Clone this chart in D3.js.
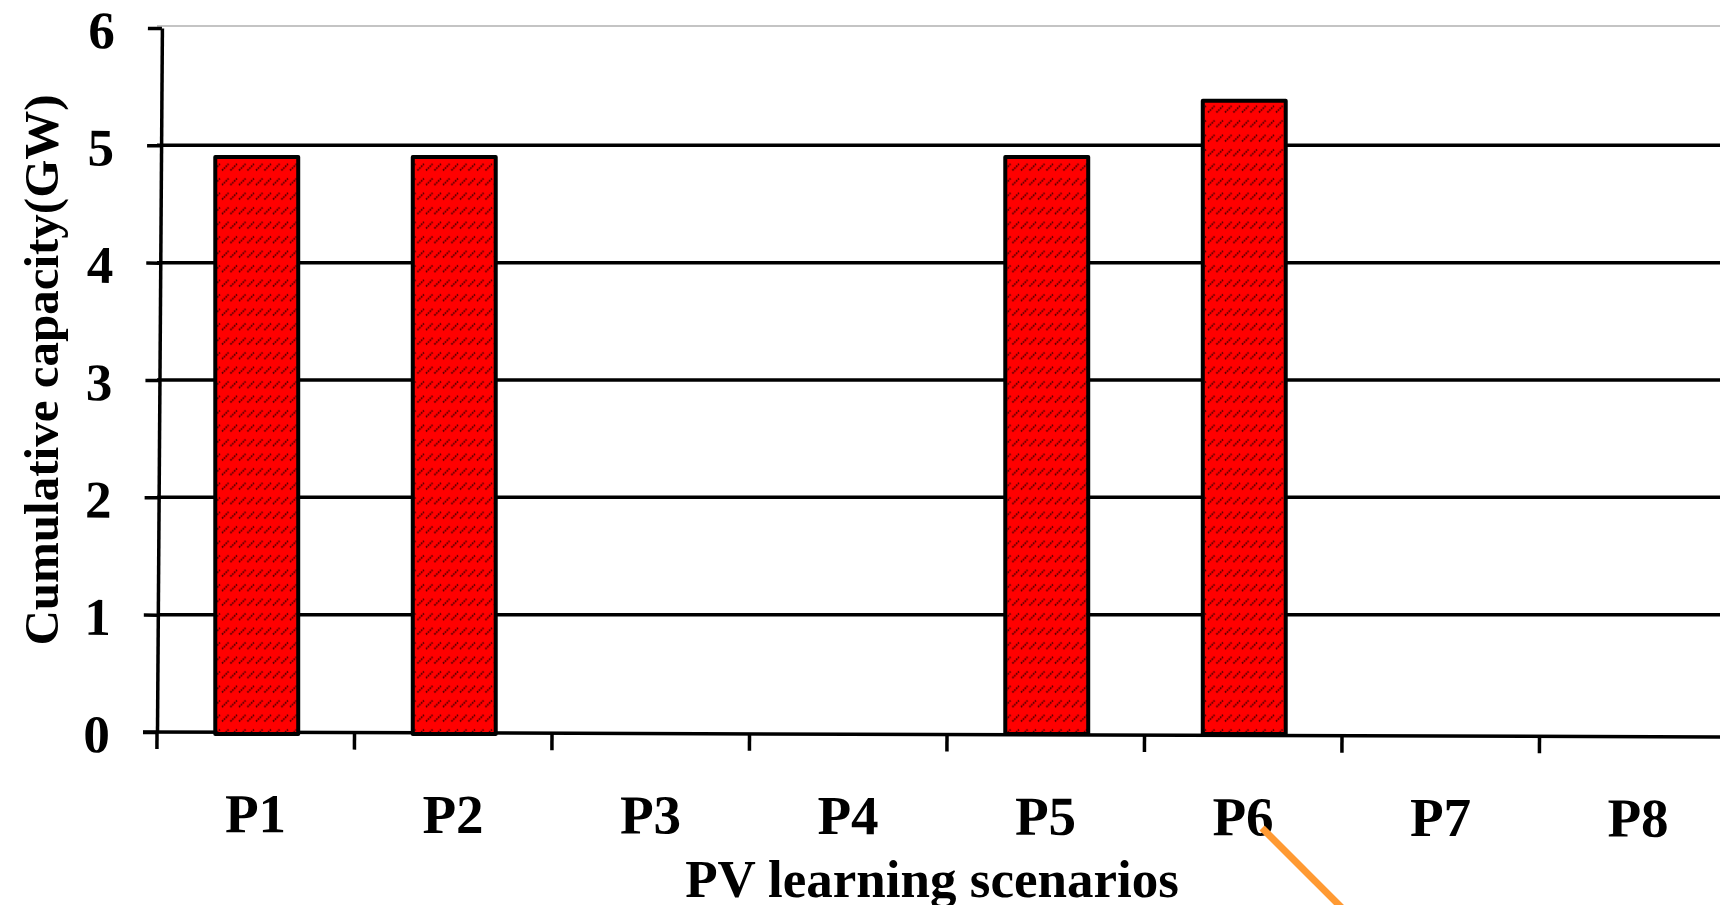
<!DOCTYPE html>
<html>
<head>
<meta charset="utf-8">
<script src="https://cdn.jsdelivr.net/npm/d3@7"></script>
<style>
	body { margin: 0; background: #ffffff; }
	.axis text { font-family: "Liberation Serif", "Times New Roman", serif; font-weight: bold; }
</style>
</head>
<body>
<div id="plot"></div>
<script>
var categories = ["P1", "P2", "P3", "P4", "P5", "P6", "P7", "P8"];
var capacity = [4.9, 4.9, 0, 0, 4.9, 5.38, 0, 0];
var yTicks = [0, 1, 2, 3, 4, 5, 6];
var yTitle = "Cumulative capacity(GW)";
var xTitle = "PV learning scenarios";

var w = 1720;
var h = 905;
var padLeft = 157;
var padBottom = 732;
var padTop = 28;
var padRight = 1737;

var dataset = categories.map(function(c, i) {
	return { name: c, value: capacity[i] };
});

var xScale = d3.scaleBand()
			.domain(categories)
			.range([padLeft, padRight])
			.paddingInner(0.58)
			.paddingOuter(0.29);

var yScale = d3.scaleLinear()
			.domain([0, 6])
			.range([padBottom, padTop]);

var svgPlot = d3.select("#plot").append("svg").attr("width", w).attr("height", h);

svgPlot.append("rect")
	.attr("width", w)
	.attr("height", h)
	.attr("fill", "#ffffff");

// hatch fill of the bars
var pattern = svgPlot.append("defs").append("pattern")
	.attr("id", "hatch")
	.attr("patternUnits", "userSpaceOnUse")
	.attr("width", 8.5)
	.attr("height", 14.5);
pattern.append("rect")
	.attr("width", 8.5)
	.attr("height", 14.5)
	.attr("fill", "#ff0000");
pattern.append("line")
	.attr("x1", 1)
	.attr("y1", 11)
	.attr("x2", 7.5)
	.attr("y2", 4.5)
	.attr("stroke", "#3a0000")
	.attr("stroke-width", 1.6)
	.attr("stroke-dasharray", "1.6 1");

// top border of plot area
svgPlot.append("line")
	.attr("x1", padLeft)
	.attr("x2", w)
	.attr("y1", yScale(6) - 2)
	.attr("y2", yScale(6) - 2)
	.attr("stroke", "#c4c4c4")
	.attr("stroke-width", 2);

svgPlot.selectAll(".grid")
	.data(yTicks.filter(function(d) { return d > 0 && d < 6; }))
	.enter()
	.append("line")
	.attr("class", "grid")
	.attr("x1", padLeft)
	.attr("x2", w)
	.attr("y1", function(d) { return yScale(d); })
	.attr("y2", function(d) { return yScale(d); })
	.attr("stroke", "#000000")
	.attr("stroke-width", 3.5);

// y axis, slightly tilted like the scanned figure
var yAxis = d3.axisLeft(yScale)
			.tickValues(yTicks)
			.tickFormat(d3.format("d"))
			.tickSizeInner(14)
			.tickSizeOuter(0)
			.tickPadding(33);

var yG = svgPlot.append("g")
	.attr("class", "axis")
	.attr("transform", "translate(" + padLeft + ",0) rotate(0.4,0," + padBottom + ")")
	.call(yAxis);
yG.select(".domain").attr("stroke-width", 3.5);
yG.selectAll(".tick line").attr("stroke-width", 3.5);
yG.selectAll(".tick text")
	.attr("font-size", 53)
	.attr("dy", "0.38em")
	.attr("fill", "#000000");

// x axis: labels centred on categories
var xAxis = d3.axisBottom(xScale)
			.tickSize(0)
			.tickPadding(61);

var xG = svgPlot.append("g")
	.attr("class", "axis")
	.attr("transform", "translate(0," + padBottom + ") rotate(0.18," + padLeft + ",0)")
	.call(xAxis);
xG.select(".domain")
	.attr("d", "M" + (padLeft - 14) + ",0H" + w)
	.attr("stroke-width", 3.5);
xG.selectAll(".tick text")
	.attr("font-size", 55)
	.attr("fill", "#000000");

// tick marks between categories
var gap = (xScale.step() - xScale.bandwidth()) / 2;
var bounds = categories.map(function(c) { return xScale(c) - gap; }).concat([padRight]);
xG.selectAll(".sep")
	.data(bounds)
	.enter()
	.append("line")
	.attr("class", "sep")
	.attr("x1", function(d) { return d; })
	.attr("x2", function(d) { return d; })
	.attr("y1", 0)
	.attr("y2", 17)
	.attr("stroke", "#000000")
	.attr("stroke-width", 3.5);

svgPlot.selectAll(".bar")
	.data(dataset.filter(function(d) { return d.value > 0; }))
	.enter()
	.append("rect")
	.attr("class", "bar")
	.attr("x", function(d) { return xScale(d.name) + 1; })
	.attr("y", function(d) { return yScale(d.value); })
	.attr("width", xScale.bandwidth())
	.attr("height", function(d) { return padBottom + 2 - yScale(d.value); })
	.attr("fill", "url(#hatch)")
	.attr("stroke", "#000000")
	.attr("stroke-width", 4)
	.attr("stroke-linejoin", "round");

svgPlot.append("text")
	.attr("transform", "translate(58,370) rotate(-90)")
	.attr("text-anchor", "middle")
	.attr("font-family", "Liberation Serif, Times New Roman, serif")
	.attr("font-weight", "bold")
	.attr("font-size", 49)
	.text(yTitle);

svgPlot.append("text")
	.attr("x", 932)
	.attr("y", 897)
	.attr("text-anchor", "middle")
	.attr("font-family", "Liberation Serif, Times New Roman, serif")
	.attr("font-weight", "bold")
	.attr("font-size", 53)
	.text(xTitle);

// orange pointer line coming from the lower edge
svgPlot.append("line")
	.attr("x1", 1262)
	.attr("y1", 828)
	.attr("x2", 1346)
	.attr("y2", 912)
	.attr("stroke", "#ff9a33")
	.attr("stroke-width", 7);
</script>
</body>
</html>
